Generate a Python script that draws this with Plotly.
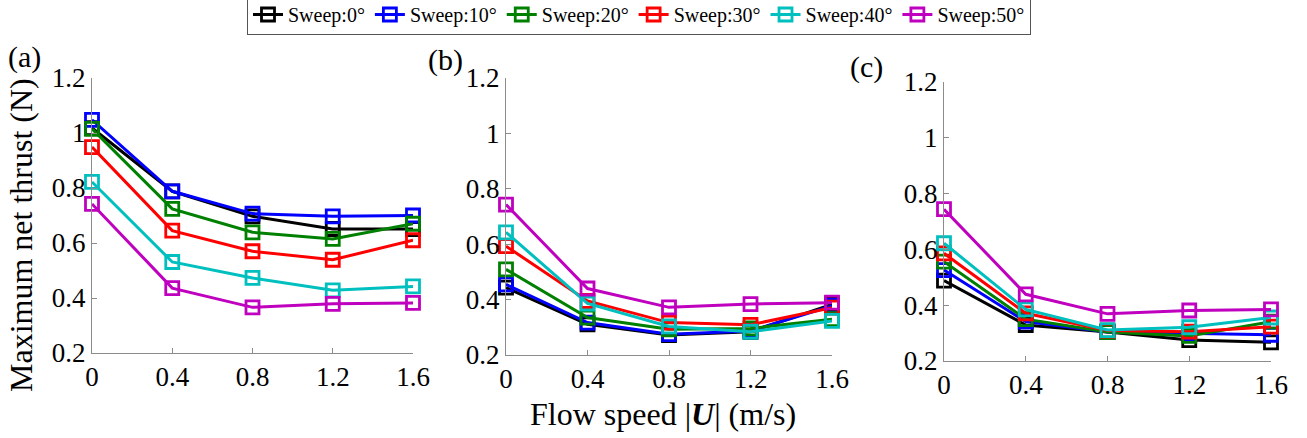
import plotly.graph_objects as go

# Flow speed |U| (m/s)
flow_speed = [0, 0.4, 0.8, 1.2, 1.6]
x_tick_text = ["0", "0.4", "0.8", "1.2", "1.6"]
y_tick_vals = [0.2, 0.4, 0.6, 0.8, 1.0, 1.2]
y_tick_text = ["0.2", "0.4", "0.6", "0.8", "1", "1.2"]

sweep_names = ["Sweep:0°", "Sweep:10°", "Sweep:20°", "Sweep:30°", "Sweep:40°", "Sweep:50°"]
sweep_colors = ["#000000", "#0000ff", "#008000", "#ff0000", "#00bfbf", "#bf00bf"]

# Maximum net thrust (N), panel (a)
thrust_a_0 = [1.018, 0.788, 0.697, 0.651, 0.651]
thrust_a_10 = [1.048, 0.788, 0.707, 0.697, 0.700]
thrust_a_20 = [1.015, 0.724, 0.639, 0.615, 0.670]
thrust_a_30 = [0.949, 0.645, 0.570, 0.539, 0.610]
thrust_a_40 = [0.822, 0.531, 0.473, 0.428, 0.442]
thrust_a_50 = [0.742, 0.436, 0.366, 0.379, 0.382]

# Maximum net thrust (N), panel (b)
thrust_b_0 = [0.443, 0.311, 0.272, 0.284, 0.383]
thrust_b_10 = [0.455, 0.317, 0.275, 0.287, 0.377]
thrust_b_20 = [0.509, 0.335, 0.293, 0.296, 0.329]
thrust_b_30 = [0.593, 0.395, 0.317, 0.309, 0.371]
thrust_b_40 = [0.643, 0.386, 0.303, 0.284, 0.323]
thrust_b_50 = [0.743, 0.440, 0.372, 0.384, 0.389]

# Maximum net thrust (N), panel (c)
thrust_c_0 = [0.488, 0.329, 0.304, 0.275, 0.267]
thrust_c_10 = [0.526, 0.341, 0.304, 0.299, 0.294]
thrust_c_20 = [0.556, 0.350, 0.304, 0.290, 0.341]
thrust_c_30 = [0.586, 0.371, 0.309, 0.305, 0.323]
thrust_c_40 = [0.622, 0.385, 0.311, 0.321, 0.356]
thrust_c_50 = [0.744, 0.439, 0.369, 0.381, 0.385]

panels = [
    ("x", "y", [thrust_a_0, thrust_a_10, thrust_a_20, thrust_a_30, thrust_a_40, thrust_a_50]),
    ("x2", "y2", [thrust_b_0, thrust_b_10, thrust_b_20, thrust_b_30, thrust_b_40, thrust_b_50]),
    ("x3", "y3", [thrust_c_0, thrust_c_10, thrust_c_20, thrust_c_30, thrust_c_40, thrust_c_50]),
]

W, H = 1307, 438
SERIF = "Liberation Serif"
TICK_SIZE = 27

fig = go.Figure()
for p, (xa, ya, series) in enumerate(panels):
    for name, color, vals in zip(sweep_names, sweep_colors, series):
        fig.add_trace(go.Scatter(
            x=flow_speed, y=vals, xaxis=xa, yaxis=ya,
            mode="lines+markers", name=name,
            line=dict(color=color, width=3),
            marker=dict(symbol="square-open", size=13, color=color,
                        line=dict(color=color, width=2.8)),
            cliponaxis=False, showlegend=(p == 0),
        ))

# panel positions in pixels: (left, right, top, bottom)
boxes = [(92, 413, 78, 353), (506, 832, 78, 355), (944, 1271, 82, 361)]

tick_font = dict(family=SERIF, size=TICK_SIZE, color="#000000")
for i, (l, r, t, b) in enumerate(boxes):
    sfx = "" if i == 0 else str(i + 1)
    axis_common = dict(
        showline=True, linecolor="#8c8c8c", linewidth=1,
        ticks="inside", ticklen=5, tickcolor="#8c8c8c", tickwidth=1,
        showgrid=False, zeroline=False, tickfont=tick_font,
    )
    fig.layout["xaxis" + sfx] = dict(
        axis_common, domain=[l / W, r / W], range=[0, 1.6],
        tickvals=flow_speed, ticktext=x_tick_text, anchor="y" + sfx,
    )
    fig.layout["yaxis" + sfx] = dict(
        axis_common, domain=[1 - b / H, 1 - t / H], range=[0.2, 1.2],
        tickvals=y_tick_vals, ticktext=y_tick_text, anchor="x" + sfx,
    )

# panel tags
for tag, px, py in [("(a)", 25, 57), ("(b)", 445, 60), ("(c)", 866, 67)]:
    fig.add_annotation(text=tag, x=px / W, y=1 - py / H, xref="paper", yref="paper",
                       showarrow=False, xanchor="center", yanchor="middle",
                       font=dict(family=SERIF, size=30, color="#000000"))

# axis titles
fig.add_annotation(text="Maximum net thrust (N)", x=21 / W, y=1 - 235 / H,
                   xref="paper", yref="paper", showarrow=False, textangle=-90,
                   xanchor="center", yanchor="middle",
                   font=dict(family=SERIF, size=32, color="#000000"))
fig.add_annotation(text="Flow speed |<b><i>U</i></b>| (m/s)", x=663 / W, y=1 - 414 / H,
                   xref="paper", yref="paper", showarrow=False,
                   xanchor="center", yanchor="middle",
                   font=dict(family=SERIF, size=32, color="#000000"))

fig.update_layout(
    template="none",
    width=W, height=H,
    margin=dict(l=0, r=0, t=0, b=0, pad=0, autoexpand=False),
    font=dict(family=SERIF, size=TICK_SIZE, color="#000000"),
    paper_bgcolor="white", plot_bgcolor="white",
    legend=dict(
        orientation="h", x=639 / W, xanchor="center", y=1 + 6 / H, yanchor="top",
        font=dict(family=SERIF, size=20, color="#000000"),
        bordercolor="#555555", borderwidth=1, bgcolor="white",
        itemwidth=30, tracegroupgap=0,
    ),
)

fig.write_html("out.html")
